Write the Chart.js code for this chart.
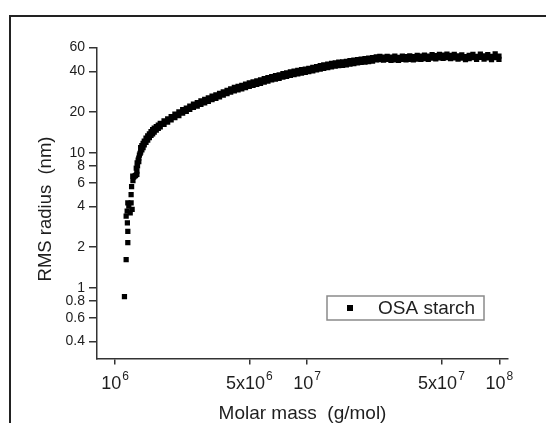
<!DOCTYPE html>
<html>
<head>
<meta charset="utf-8">
<script src="https://cdn.jsdelivr.net/npm/chart.js@4.4.0/dist/chart.umd.min.js"></script>
<style>
  html, body { margin: 0; padding: 0; background: #fff; }
  #wrap { width: 546px; height: 423px; }
</style>
</head>
<body>
<div id="wrap"><canvas id="rgChart" width="546" height="423"></canvas></div>
<script>
// molar mass (g/mol) and RMS radius (nm), one entry per slice
const molarMass = [
  // steep start
  1.12e6, 1.143e6, 1.166e6, 1.166e6, 1.16e6, 1.143e6, 1.157e6, 1.18e6, 1.20e6, 1.213e6,
  1.228e6, 1.166e6, 1.213e6, 1.22e6, 1.237e6, 1.24e6, 1.25e6, 1.267e6, 1.28e6, 1.30e6,
  1.29e6, 1.30e6, 1.304e6, 1.31e6, 1.32e6, 1.33e6, 1.33e6, 1.34e6, 1.35e6,
  // knee
  1.36e6, 1.36e6, 1.38e6, 1.38e6, 1.40e6, 1.40e6, 1.42e6, 1.42e6, 1.45e6, 1.45e6,
  1.48e6, 1.48e6, 1.51e6, 1.51e6, 1.54e6, 1.54e6, 1.57e6, 1.57e6, 1.60e6, 1.60e6,
  1.64e6, 1.64e6, 1.68e6, 1.68e6,
  // rising band
  1.72e6, 1.72e6, 1.80e6, 1.80e6, 1.88e6, 1.88e6, 1.96e6, 1.96e6, 2.05e6, 2.05e6,
  2.15e6, 2.15e6, 2.25e6, 2.25e6, 2.35e6, 2.35e6, 2.45e6, 2.45e6, 2.56e6, 2.56e6,
  2.68e6, 2.68e6, 2.80e6, 2.80e6, 2.93e6, 2.93e6, 3.06e6, 3.06e6, 3.20e6, 3.20e6,
  3.35e6, 3.35e6, 3.50e6, 3.50e6, 3.66e6, 3.66e6, 3.83e6, 3.83e6, 4.00e6, 4.00e6,
  4.18e6, 4.18e6, 4.37e6, 4.37e6, 4.57e6, 4.57e6, 4.78e6, 4.78e6, 5.00e6, 5.00e6,
  5.23e6, 5.23e6, 5.47e6, 5.47e6, 5.72e6, 5.72e6, 5.98e6, 5.98e6, 6.25e6, 6.25e6,
  6.54e6, 6.54e6, 6.84e6, 6.84e6, 7.15e6, 7.15e6, 7.48e6, 7.48e6, 7.82e6, 7.82e6,
  8.18e6, 8.18e6, 8.55e6, 8.55e6, 8.94e6, 8.94e6, 9.35e6, 9.35e6, 9.78e6, 9.78e6,
  1.02e7, 1.02e7, 1.07e7, 1.07e7, 1.12e7, 1.12e7, 1.17e7, 1.17e7, 1.22e7, 1.22e7,
  1.28e7, 1.28e7, 1.34e7, 1.34e7, 1.40e7, 1.40e7, 1.46e7, 1.46e7, 1.53e7, 1.53e7,
  1.60e7, 1.60e7, 1.67e7, 1.67e7, 1.75e7, 1.75e7, 1.83e7, 1.83e7, 1.91e7, 1.91e7,
  2.00e7, 2.00e7, 2.09e7, 2.09e7, 2.19e7, 2.19e7,
  // plateau
  2.29e7, 2.29e7, 2.39e7, 2.39e7, 2.50e7, 2.50e7, 2.61e7, 2.61e7, 2.73e7, 2.73e7,
  2.86e7, 2.86e7, 2.99e7, 2.99e7, 3.13e7, 3.13e7, 3.27e7, 3.27e7, 3.42e7, 3.42e7,
  3.57e7, 3.57e7, 3.74e7, 3.74e7, 3.91e7, 3.91e7, 4.08e7, 4.08e7, 4.27e7, 4.27e7,
  4.47e7, 4.47e7, 4.67e7, 4.67e7, 4.88e7, 4.88e7, 5.10e7, 5.10e7, 5.34e7, 5.34e7,
  5.58e7, 5.58e7, 5.83e7, 5.83e7, 6.10e7, 6.10e7, 6.38e7, 6.38e7, 6.67e7, 6.67e7,
  6.97e7, 6.97e7, 7.29e7, 7.29e7, 7.62e7, 7.62e7, 7.97e7, 7.97e7, 8.33e7, 8.33e7,
  8.71e7, 8.71e7, 9.11e7, 9.11e7, 9.52e7, 9.52e7, 9.96e7, 9.96e7
];
const rmsRadius = [
  // steep start
  0.86, 1.62, 2.16, 2.62, 3.03, 3.39, 3.69, 4.02, 3.59, 4.25,
  3.80, 4.25, 4.90, 5.6, 6.7, 6.2, 6.6, 6.7, 6.8, 6.9,
  7.7, 7.3, 8.4, 8.0, 8.8, 9.1, 8.6, 9.6, 9.9,
  // knee
  10.9, 10.1, 11.3, 10.5, 11.7, 10.9, 12.2, 11.4, 12.8, 11.9,
  13.3, 12.4, 13.8, 12.9, 14.3, 13.4, 14.8, 13.8, 15.2, 14.2,
  15.6, 14.7, 16.0, 15.1,
  // rising band
  16.5, 15.5, 17.2, 16.2, 17.8, 16.8, 18.5, 17.5, 19.3, 18.2,
  20.0, 18.8, 20.8, 19.6, 21.4, 20.2, 22.1, 20.9, 22.9, 21.6,
  23.5, 22.1, 24.2, 22.8, 24.8, 23.4, 25.4, 24.0, 26.2, 24.7,
  26.8, 25.2, 27.5, 25.9, 28.2, 26.6, 28.9, 27.3, 29.7, 28.0,
  30.4, 28.6, 30.9, 29.1, 31.5, 29.7, 32.1, 30.3, 32.8, 30.9,
  33.4, 31.5, 34.0, 32.0, 34.6, 32.6, 35.3, 33.3, 35.9, 33.9,
  36.6, 34.5, 37.2, 35.0, 37.7, 35.5, 38.4, 36.2, 38.9, 36.7,
  39.6, 37.3, 40.1, 37.8, 40.7, 38.3, 41.2, 38.8, 41.6, 39.2,
  42.1, 39.7, 42.7, 40.3, 43.4, 40.9, 44.0, 41.5, 44.6, 42.0,
  45.2, 42.6, 45.8, 43.2, 46.2, 43.6, 46.7, 44.0, 47.0, 44.3,
  47.4, 44.7, 47.9, 45.1, 48.4, 45.6, 48.9, 46.1, 49.3, 46.5,
  49.6, 46.8, 50.0, 47.1, 50.5, 47.6,
  // plateau
  51.2, 48.5, 51.5, 48.7, 50.9, 48.3, 51.6, 48.9, 51.0, 48.2,
  51.7, 48.6, 50.8, 48.1, 51.9, 48.9, 51.3, 48.5, 52.1, 49.1,
  51.4, 48.6, 52.4, 49.3, 51.7, 48.9, 52.7, 49.7, 51.9, 49.1,
  53.2, 50.1, 52.2, 49.5, 53.4, 50.3, 52.6, 49.9, 53.6, 50.4,
  52.4, 49.7, 53.3, 50.3, 52.0, 49.3, 53.0, 50.1, 51.3, 48.7,
  52.5, 49.7, 53.3, 50.5, 51.6, 49.0, 53.6, 50.6, 52.0, 49.3,
  53.1, 50.2, 51.5, 48.8, 53.8, 50.5, 51.8, 49.1
];
const seriesName = 'OSA starch';
const xTitle = 'Molar mass  (g/mol)';
const yTitle = 'RMS radius  (nm)';

const xTicks = [1e6, 5e6, 1e7, 5e7, 1e8];
const xTickBase = ['10', '5x10', '10', '5x10', '10'];
const xTickExp = ['6', '6', '7', '7', '8'];
const yTicks = [0.4, 0.6, 0.8, 1, 2, 4, 6, 8, 10, 20, 40, 60];

const ink = '#1e1e1e';
const axisColor = '#333';
const fontFamily = '"Liberation Sans", Arial, sans-serif';

const points = molarMass.map((m, i) => ({ x: m, y: rmsRadius[i] }));

// white page plus the outer frame
const framePlugin = {
  id: 'frame',
  beforeDraw(chart) {
    const ctx = chart.ctx;
    ctx.save();
    ctx.fillStyle = '#fff';
    ctx.fillRect(0, 0, chart.width, chart.height);
    ctx.strokeStyle = '#222';
    ctx.lineWidth = 2;
    ctx.strokeRect(10, 16, 700, 700);
    ctx.restore();
  }
};

// x tick labels with raised exponents, and the rotated y title
const axisTextPlugin = {
  id: 'axisText',
  afterDraw(chart) {
    const ctx = chart.ctx;
    const xs = chart.scales.x;
    ctx.save();
    ctx.fillStyle = ink;
    ctx.textBaseline = 'alphabetic';
    ctx.textAlign = 'left';
    xTicks.forEach((v, i) => {
      const px = xs.getPixelForValue(v);
      ctx.font = '18px ' + fontFamily;
      const wb = ctx.measureText(xTickBase[i]).width;
      ctx.font = '12px ' + fontFamily;
      const we = ctx.measureText(xTickExp[i]).width;
      const x0 = px - (wb + we + 1) / 2;
      ctx.font = '18px ' + fontFamily;
      ctx.fillText(xTickBase[i], x0, 389);
      ctx.font = '12px ' + fontFamily;
      ctx.fillText(xTickExp[i], x0 + wb + 1, 380);
    });

    ctx.translate(46, 209);
    ctx.rotate(-Math.PI / 2);
    ctx.font = '18.5px ' + fontFamily;
    ctx.textAlign = 'center';
    ctx.textBaseline = 'middle';
    ctx.fillText(yTitle, 0, 0);
    ctx.restore();
  }
};

// boxed legend sitting inside the plot
const boxLegendPlugin = {
  id: 'boxLegend',
  afterDatasetsDraw(chart) {
    const ctx = chart.ctx;
    const ds = chart.data.datasets[0];
    ctx.save();
    ctx.fillStyle = '#fff';
    ctx.fillRect(327, 296, 157, 24);
    ctx.strokeStyle = '#8a8a8a';
    ctx.lineWidth = 1.5;
    ctx.strokeRect(327, 296, 157, 24);
    ctx.fillStyle = ds.backgroundColor;
    ctx.fillRect(347, 305, 6, 6);
    ctx.fillStyle = ink;
    ctx.font = '19px ' + fontFamily;
    ctx.textBaseline = 'middle';
    ctx.fillText(ds.label, 378, 309);
    ctx.restore();
  }
};

new Chart(document.getElementById('rgChart'), {
  type: 'scatter',
  data: {
    datasets: [{
      label: seriesName,
      data: points,
      pointStyle: 'rect',
      pointRadius: 3.7,
      backgroundColor: '#000',
      borderWidth: 0
    }]
  },
  options: {
    responsive: false,
    animation: false,
    devicePixelRatio: 1,
    layout: { padding: { left: 0, top: 47.5, right: 38, bottom: 0 } },
    plugins: {
      legend: { display: false },
      tooltip: { enabled: false }
    },
    scales: {
      x: {
        type: 'logarithmic',
        position: 'bottom',
        min: 8.06e5,
        max: 1.11e8,
        afterBuildTicks: s => { s.ticks = xTicks.map(v => ({ value: v })); },
        afterFit: s => { s.height = 64.5; },
        ticks: { autoSkip: false, callback: () => '' },
        grid: { drawOnChartArea: false, tickLength: 6, color: axisColor, lineWidth: 1.5 },
        border: { color: axisColor, width: 1.5 },
        title: {
          display: true,
          text: xTitle,
          color: ink,
          font: { family: fontFamily, size: 19, lineHeight: 1 },
          padding: { top: 0, bottom: 0 }
        }
      },
      y: {
        type: 'logarithmic',
        min: 0.3,
        max: 60,
        afterBuildTicks: s => { s.ticks = yTicks.map(v => ({ value: v })); },
        afterFit: s => { s.width = 97; },
        ticks: {
          autoSkip: false,
          padding: 4,
          color: ink,
          font: { family: fontFamily, size: 14 },
          callback: v => String(v)
        },
        grid: { drawOnChartArea: false, tickLength: 8, color: axisColor, lineWidth: 1.5 },
        border: { color: axisColor, width: 1.5 }
      }
    }
  },
  plugins: [framePlugin, axisTextPlugin, boxLegendPlugin]
});
</script>
</body>
</html>
